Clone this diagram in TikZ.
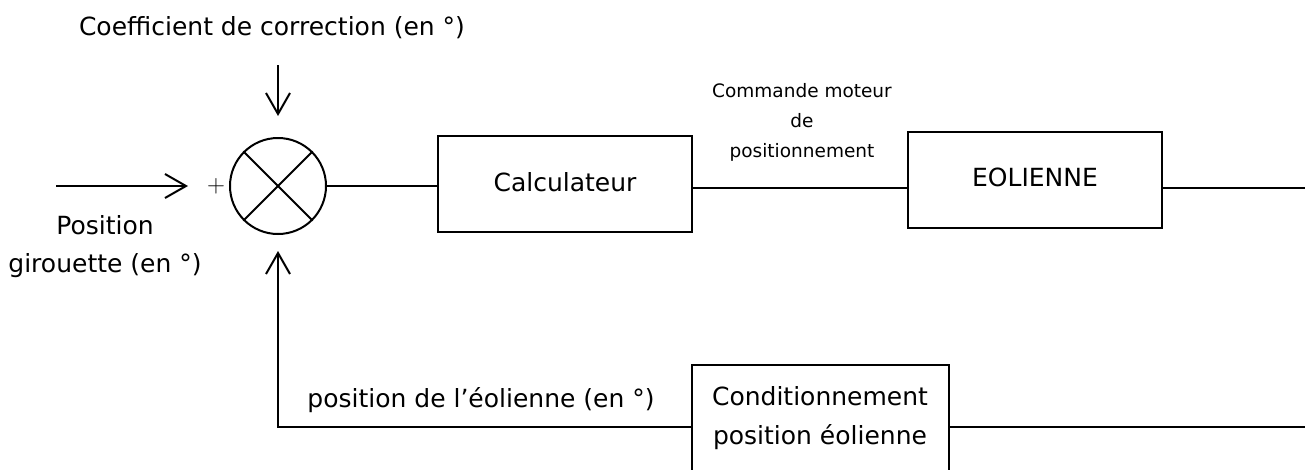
\documentclass[tikz,border=0pt]{standalone}
\usepackage{fontspec}
\setmainfont{DejaVu Sans}
\usetikzlibrary{arrows.meta,calc}
\begin{document}
\begin{tikzpicture}[x=1pt,y=-1pt, line width=2pt,
  lbl/.style={font=\fontsize{25}{38}\selectfont, inner sep=0pt, align=center},
  small/.style={font=\fontsize{18.5}{30}\selectfont, inner sep=0pt, align=center},
  blockbox/.style={draw, rectangle, minimum width=254pt, minimum height=96pt, inner sep=0pt, align=center},
  arr/.style={-{Straight Barb[length=21pt,width=24pt,line width=2pt]}}
]
\useasboundingbox (0,0) rectangle (1305,469);
\clip (0,0) rectangle (1305,469);

% blocks
\node[draw, circle, minimum size=96pt, inner sep=0pt] (sum) at (278,186) {};
\node[blockbox] (calc) at (565,184) {};
\node[lbl] (calctxt) at (565,182) {Calculateur};
\node[blockbox] (eol) at (1035,180) {};
\node[lbl] (eoltxt) at (1035,177) {EOLIENNE};
\node[blockbox, minimum width=257pt, minimum height=116pt] (cond) at (820.5,423) {};
\node[lbl, font=\fontsize{25}{39}\selectfont] (condtxt) at (820,418) {Conditionnement\\position éolienne};

% cross in summing junction
\draw (sum.45) -- (sum.225);
\draw (sum.135) -- (sum.-45);

% coordinates for free ends
\coordinate (in) at (56,186);
\coordinate (intip) at (188,186);
\coordinate (coefstart) at (sum.north |- 0,65);
\coordinate (out) at (1305,188);
\coordinate (fbout) at (1305,427);
\coordinate (fbin) at (692,427);

% connectors
\draw[arr] (in) -- (intip);
\draw[arr] (coefstart) -- ([yshift=21pt]sum.north);
\draw (sum.east) -- (sum.east -| calc.west);
\draw (calc.east |- 0,188) -- (eol.west |- 0,188);
\draw (eol.east |- out) -- (out);
\draw (cond.east |- fbout) -- (fbout);
\draw[arr] (fbin) -| ([yshift=-16pt]sum.south);

% labels
\node[lbl] (coef) at (272,28) {Coefficient de correction (en °)};
\node[lbl] (pos) at (105,247) {Position\\girouette (en °)};
\node[inner sep=0pt, font=\fontsize{32}{34}\selectfont] (plus) at (216,186) {$+$};
\node[small] (cmd) at (802,122) {Commande moteur\\de\\positionnement};
\node[lbl] (fbl) at (481,400) {position de l’éolienne (en °)};
\end{tikzpicture}
\end{document}
